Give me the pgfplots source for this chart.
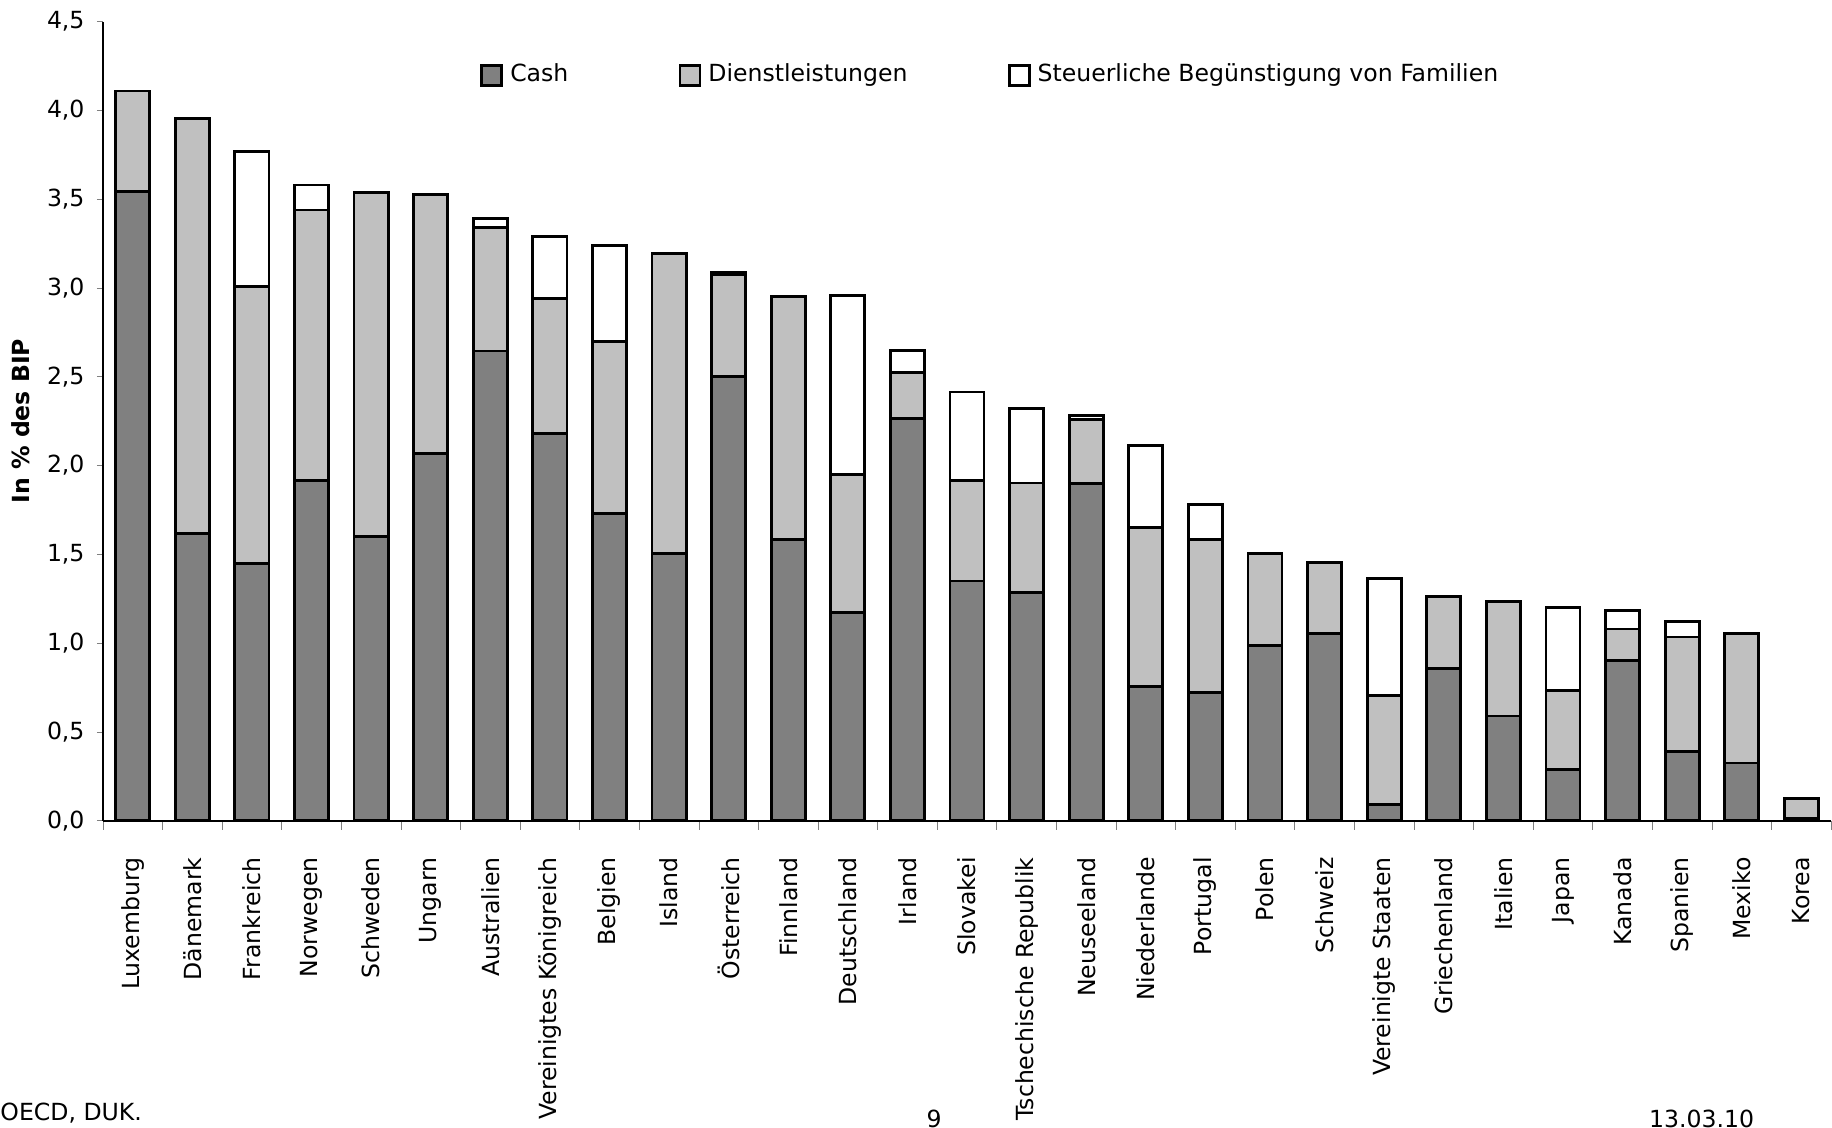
\documentclass[border=0pt]{standalone}
\usepackage{pgfplots}
\pgfplotsset{compat=1.18}
\usepackage{pgfplotstable}
\usepackage{fontspec}
\setmainfont{DejaVu Sans}

\definecolor{cashc}{HTML}{808080}
\definecolor{dienc}{HTML}{C0C0C0}

\pgfplotsset{sqlegend/.style={legend image code/.code={%
  \draw[##1,line width=0.8pt] (0cm,-0.1cm) rectangle (0.2cm,0.1cm);}}}

\pgfplotstableread{
x cash dienst steuer
0 3.545 0.565 0
1 1.617 2.34 0
2 1.45 1.56 0.76
3 1.915 1.525 0.14
4 1.60 1.94 0
5 2.07 1.455 0
6 2.645 0.695 0.05
7 2.18 0.76 0.35
8 1.73 0.97 0.54
9 1.504 1.69 0
10 2.50 0.575 0.015
11 1.584 1.37 0
12 1.173 0.775 1.01
13 2.266 0.26 0.12
14 1.35 0.565 0.50
15 1.286 0.616 0.42
16 1.90 0.36 0.02
17 0.755 0.895 0.465
18 0.722 0.86 0.2
19 0.987 0.517 0
20 1.054 0.40 0
21 0.093 0.61 0.66
22 0.855 0.41 0
23 0.59 0.643 0
24 0.29 0.445 0.465
25 0.90 0.18 0.105
26 0.39 0.645 0.085
27 0.325 0.73 0
28 0.013 0.113 0
}\data

\begin{document}
\begin{tikzpicture}
\begin{axis}[
  scale only axis,
  width=17.26cm, height=7.98cm,
  ybar stacked, bar width=0.34cm,
  xmin=-0.5, xmax=28.5, ymin=0, ymax=4.5,
  clip=false,
  axis x line*=bottom, axis y line*=left,
  axis line style={line width=0.5pt,-},
  tick align=outside,
  major tick length=0.06cm, minor tick length=0.09cm,
  xtick={0,...,28},
  major x tick style={draw=none},
  minor xtick={-0.5,0.5,...,28.5},
  xticklabels={Luxemburg,Dänemark,Frankreich,Norwegen,Schweden,Ungarn,Australien,Vereinigtes Königreich,Belgien,Island,Österreich,Finnland,Deutschland,Irland,Slovakei,Tschechische Republik,Neuseeland,Niederlande,Portugal,Polen,Schweiz,Vereinigte Staaten,Griechenland,Italien,Japan,Kanada,Spanien,Mexiko,Korea},
  xticklabel style={yshift=-0.3cm, rotate=90, anchor=east, inner sep=0pt},
  ytick={0,0.5,1,1.5,2,2.5,3,3.5,4,4.5},
  yticklabel style={/pgf/number format/.cd, fixed, fixed zerofill, precision=1, use comma, assume math mode=true},
  tick label style={font=\fontsize{6.7}{8}\selectfont},
  ylabel={\bfseries In \% des BIP},
  every axis y label/.style={at={(axis description cs:-0.0475,0.5)}, rotate=90, anchor=center, font=\fontsize{6.7}{8}\selectfont},
  legend columns=3,
  legend style={at={(0.218,0.933)}, anchor=west, draw=none, fill=none, inner sep=0pt, font=\fontsize{6.7}{8}\selectfont},
]
\addplot[fill=cashc, draw=black, line width=0.8pt, sqlegend] table[x=x,y=cash]{\data};
\addlegendentry{Cash\hspace{1.03cm}\mbox{}}
\addplot[fill=dienc, draw=black, line width=0.8pt, sqlegend] table[x=x,y=dienst]{\data};
\addlegendentry{Dienstleistungen\hspace{0.93cm}\mbox{}}
\addplot[fill=white, draw=black, line width=0.8pt, sqlegend] table[x=x,y=steuer]{\data};
\addlegendentry{Steuerliche Begünstigung von Familien}
\node[anchor=south west, inner sep=0pt, font=\fontsize{6.7}{8}\selectfont] at (axis description cs:-0.0597,-0.379) {OECD, DUK.};
\node[anchor=south, inner sep=0pt, font=\fontsize{6.7}{8}\selectfont] at (axis description cs:0.481,-0.385) {9};
\node[anchor=south, inner sep=0pt, font=\fontsize{6.7}{8}\selectfont] at (axis description cs:0.925,-0.385) {13.03.10};
\end{axis}
\end{tikzpicture}
\end{document}
